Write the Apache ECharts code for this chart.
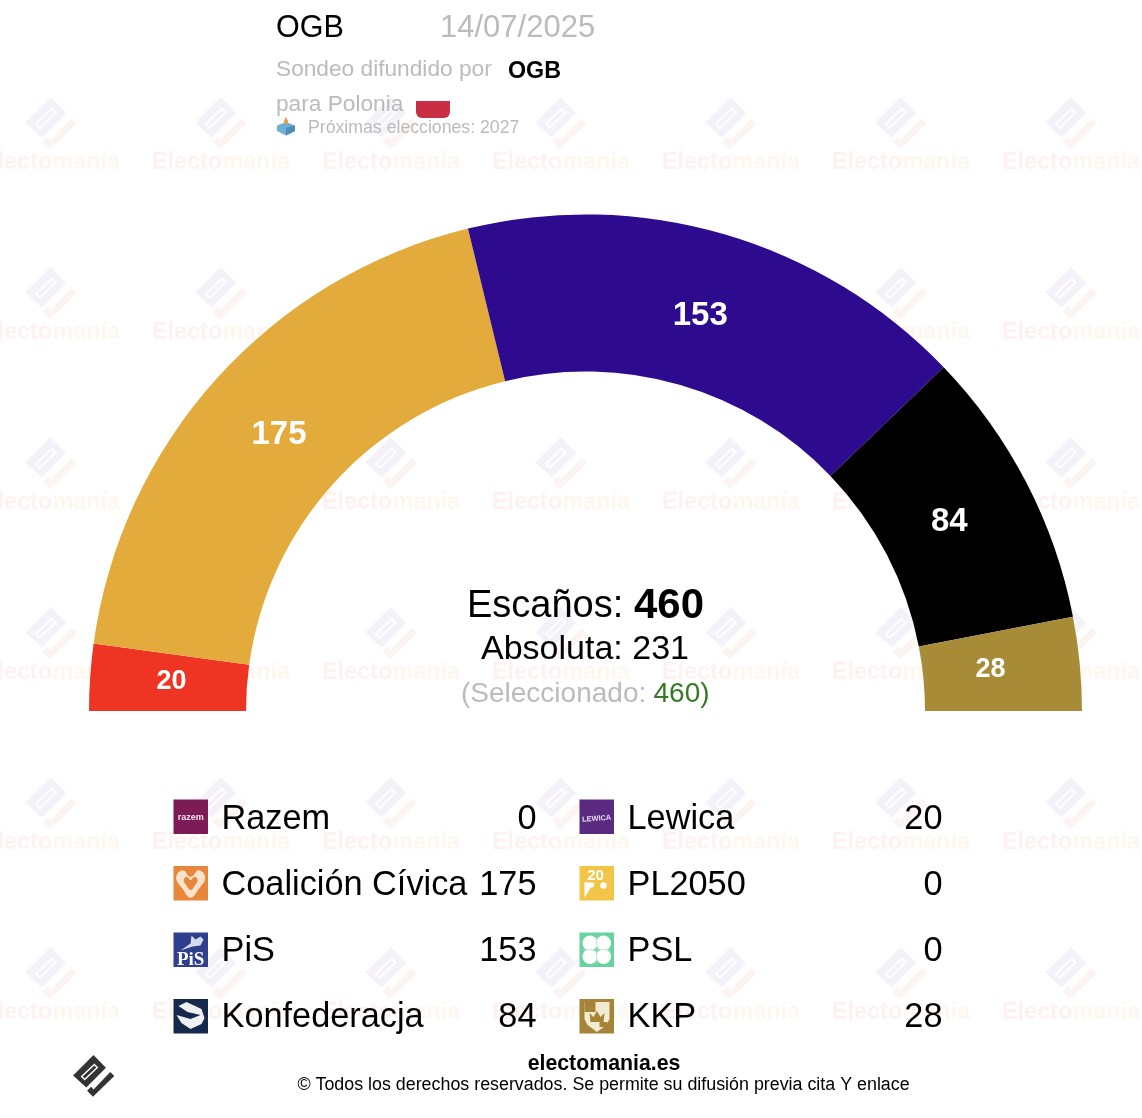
<!DOCTYPE html>
<html><head><meta charset="utf-8">
<style>html,body{margin:0;padding:0;background:#fff}#c{width:1142px;height:1118px}</style>
<script src="https://cdn.jsdelivr.net/npm/echarts@6/dist/echarts.min.js"></script>
</head><body><div id="c"></div>
<script>
const parties = ['Razem','Lewica','Coalición Cívica','PL2050','PiS','PSL','Konfederacja','KKP'];
const seats = [0,20,175,0,153,0,84,28];
const colors = ['#7D1B56','#EE3524','#E3AB3B','#F2C546','#2E0A8F','#68D49D','#000000','#A88B37'];
const pollster = 'OGB';
const pollDate = '14/07/2025';
const country = 'Polonia';
const nextElection = '2027';
const totalSeats = 460;
const majority = 231;
const selected = 460;

const FONT = '"Liberation Sans", Arial, sans-serif';
const chart = echarts.init(document.getElementById('c'), null, {renderer:'canvas'});

function txt(x, base, text, size, fill, opt) {
  opt = opt || {};
  return {type:'text', x:x, y:base-0.25*size, z:opt.z===undefined?5:opt.z, silent:true, rotation:opt.rotation||0,
    style:{text:text, fill:fill, font:(opt.weight||'normal')+' '+size+'px '+(opt.family||FONT),
      align:opt.align||'left', verticalAlign:'middle'}};
}
function poly(points, fill, z, smooth) {
  return {type:'polygon', silent:true, z:z===undefined?5:z, shape:{points:points, smooth:smooth||0}, style:{fill:fill}};
}
const DIAMOND = [[0,0],[15.5,16],[-9,40.5],[-25.5,25.5]];
const SLOT = [[1,10.5],[6,15.5],[-11,32],[-16,27]];
const SLOT_IN = [[1,13],[3.5,15.5],[-11,29.5],[-13.5,27]];
const CHECK = [[21,21.3],[26,26.3],[-0.7,52.3],[-8,44.7],[-3,39.7],[0,43]];
function logo(x, y, s, c1, c2, cSlot, cIn, z) {
  const m = p => p.map(q => [x+q[0]*s, y+q[1]*s]);
  return [poly(m(DIAMOND),c1,z), poly(m(SLOT),cSlot,z), poly(m(SLOT_IN),cIn,z), poly(m(CHECK),c2,z)];
}
const wm = [];
[50,220,390,560,730,900,1070].forEach(x => {
  [125,295,465,635,805,975].forEach(y => {
    logo(x+0.7, y-28, 1, '#F5F1F9', '#FCF4F1', '#FFFFFF', '#F5F1F9', 0).forEach(e => wm.push(e));
    wm.push(txt(x-68, y+43.5, 'Electo', 23.4, '#FDF2EF', {weight:'bold',z:0}));
    wm.push(txt(x+70, y+43.5, 'manía', 23.4, '#FEF7EE', {align:'right',weight:'bold',z:0}));
  });
});

function iconBox(x, y, bg, extra) {
  const els = [{type:'rect', silent:true, z:6, shape:{x:x,y:y,width:34.5,height:34.5}, style:{fill:bg}}];
  return els.concat(extra(x,y));
}
const shape = (type, sh, fill, z) => ({type:type, silent:true, z:z||7, shape:sh, style:{fill:fill}});
function heartPts(cx, cy, s) {
  const pts = [[0,-0.5],[0.55,-0.95],[1,-0.45],[0.55,0.35],[0,0.95],[-0.55,0.35],[-1,-0.45],[-0.55,-0.95]];
  return pts.map(p=>[cx+p[0]*s, cy+p[1]*s]);
}
const iconDraw = {
  'Razem': (x,y)=>[txt(x+17.2,y+20.5,'razem',9,'#F3E3EC',{align:'center',weight:'bold',z:7})],
  'Lewica': (x,y)=>[txt(x+17.2,y+21,'LEWICA',7.4,'#E8DDF0',{align:'center',weight:'bold',z:7,rotation:0.07})],
  'Coalición Cívica': (x,y)=>[poly(heartPts(x+17.2,y+18,14.5),'#FAE3CC',7,0.45),poly(heartPts(x+17.2,y+17.5,7),'#E8873C',8,0.45)],
  'PL2050': (x,y)=>[txt(x+16,y+14,'20',15,'#FFFFFF',{align:'center',weight:'bold',z:7}),
    shape('circle',{cx:x+24,cy:y+19.5,r:3.2},'#FFFFFF'),
    poly([[x+5,y+16],[x+15,y+17],[x+14,y+21],[x+11,y+22],[x+5,y+32]],'#FFFFFF',7)],
  'PiS': (x,y)=>[txt(x+17.2,y+32,'PiS',19,'#FFFFFF',{align:'center',weight:'bold',z:7,family:'"Liberation Serif", serif'}),
    poly([[x+18,y+3],[x+22,y+7],[x+27,y+4],[x+30,y+7],[x+27,y+13],[x+19,y+14],[x+7,y+18],[x+17,y+11]],'#D5DAEC',7)],
  'PSL': (x,y)=>[shape('circle',{cx:x+10.5,cy:y+10.5,r:7.6},'#FFFFFF'),shape('circle',{cx:x+24,cy:y+10.5,r:7.6},'#FFFFFF'),
    shape('circle',{cx:x+10.5,cy:y+24,r:7.6},'#FFFFFF'),shape('circle',{cx:x+24,cy:y+24,r:7.6},'#FFFFFF'),
    shape('rect',{x:x+16.9,y:y+3,width:0.8,height:28.5},'#9FE2BF',8),shape('rect',{x:x+3,y:y+16.9,width:28.5,height:0.8},'#9FE2BF',8)],
  'Konfederacja': (x,y)=>[poly([[x+5,y+7],[x+13,y+3],[x+28,y+10],[x+31,y+19],[x+28,y+25],[x+17,y+30],[x+8,y+24],[x+3,y+16],[x+17,y+20],[x+27,y+16],[x+14,y+13]],'#EEF0F4',7)],
  'KKP': (x,y)=>[poly([[x+5,y+3],[x+30,y+3],[x+30,y+20],[x+27,y+26],[x+17.5,y+33],[x+8,y+26],[x+5,y+20]],'#F3EAD2',7),
    poly([[x+10,y+14],[x+14,y+18],[x+17.5,y+12],[x+21,y+18],[x+25,y+14],[x+24,y+23],[x+11,y+23]],'#A5843A',8),
    shape('rect',{x:x+5,y:y+3,width:11,height:10},'#A5843A',8),shape('rect',{x:x+20,y:y+23,width:8,height:5},'#A5843A',8)]
};
const iconBg = {'Razem':'#7D1B56','Lewica':'#5A2A80','Coalición Cívica':'#E8873C','PL2050':'#F2C546','PiS':'#2D3F8E','PSL':'#68D49D','Konfederacja':'#16284B','KKP':'#A5843A'};
const rowBase = [828,894,960.5,1026.5];
const rowIcon = [799.5,866,932.5,999];
const legendEls = [];
parties.forEach((name,i) => {
  const col = i%2, row = (i-col)/2;
  const ix = col ? 579.5 : 173.5;
  iconBox(ix, rowIcon[row], iconBg[name], iconDraw[name]).forEach(e=>legendEls.push(e));
  legendEls.push(txt(col?627.5:221.5, rowBase[row], name, 34.3, '#000'));
  legendEls.push(txt(col?942.5:536.5, rowBase[row], String(seats[i]), 34.3, '#000', {align:'right'}));
});

const header = [
  txt(276,36,pollster,30.5,'#000'),
  txt(440,36,pollDate,31,'#BBBBBB'),
  txt(276,75.5,'Sondeo difundido por',22.7,'#BBBBBB'),
  txt(508,77,pollster,23.3,'#000',{weight:'bold'}),
  txt(276,110,'para '+country,22.7,'#BBBBBB'),
  {type:'rect',silent:true,z:5,shape:{x:416,y:101,width:34,height:17,r:[0,0,6,6]},style:{fill:'#C92E45'}},
  poly([[286,122],[295,125.5],[295,131],[286,135.5],[277,131],[277,125.5]],'#6FAFD3',5),
  poly([[286,128],[295,125.5],[295,131],[286,135.5]],'#4E8DB5',5),
  poly([[286,117],[288,121],[287.5,124],[284.5,124],[284,121]],'#E59A4C',6),
  txt(308,133,'Próximas elecciones: '+nextElection,17.7,'#BBBBBB')
];

const centerEls = [
  txt(467,616.5,'Escaños:',38,'#000'),
  txt(634,616.5,String(totalSeats),42,'#000',{weight:'bold'}),
  txt(585,658,'Absoluta: '+majority,34,'#000',{align:'center'}),
  txt(461,701,'(Seleccionado: ',28,'#BBBBBB'),
  txt(653.5,701,selected+')',28,'#357A24')
];

const footer = [
  txt(604,1069,'electomania.es',21.3,'#000',{align:'center',weight:'bold'}),
  txt(603.5,1090,'© Todos los derechos reservados. Se permite su difusión previa cita Y enlace',17.85,'#000',{align:'center'})
].concat(logo(93.5,1055,0.8,'#333','#333','#fff','#333',5));

const labelNudge = {'Lewica':[6,-1],'Coalición Cívica':[6,6],'PiS':[-3,9],'Konfederacja':[-10,5],'KKP':[-14,-1]};

chart.setOption({
  animation:false,
  backgroundColor:'#FFFFFF',
  textStyle:{fontFamily:FONT},
  graphic:{elements: wm.concat(header, centerEls, legendEls, footer)},
  series:[{
    type:'pie', silent:true, z:2,
    center:[585.5,711], radius:[339.5,496.5],
    startAngle:180, endAngle:360, avoidLabelOverlap:false, minAngle:0, minShowLabelAngle:1,
    label:{show:true, position:'inside', formatter:'{c}', color:'#fff', fontWeight:'bold', fontFamily:FONT, textBorderWidth:0},
    labelLine:{show:false},
    data: parties.map((n,i)=>({name:n, value:seats[i], itemStyle:{color:colors[i]},
      label:{fontSize: seats[i] < 30 ? 27 : 33, offset: labelNudge[n] || [0,0]}}))
  }]
});
</script></body></html>
